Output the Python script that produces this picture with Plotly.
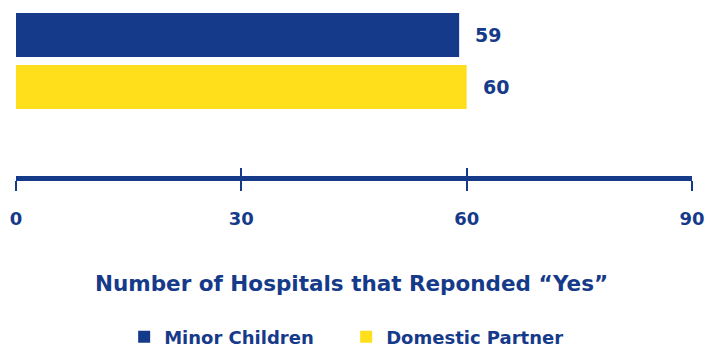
import plotly.graph_objects as go

categories = ["Minor Children", "Domestic Partner"]
values = [59, 60]
colors = ["#163A8A", "#FFDF1B"]
tick_vals = [0, 30, 60, 90]
tick_text = ["0", "30", "60", "90"]
x_title = "Number of Hospitals that Reponded “Yes”"

BLUE = "#163A8A"
FONT = "DejaVu Sans"
W, H = 710, 347


def py(p):
    """pixel row (from top) -> paper fraction (plot area fills the figure height)"""
    return 1 - p / H


fig = go.Figure()
for cat, val, col in zip(categories, values, colors):
    fig.add_trace(go.Bar(
        x=[val], y=[cat], orientation="h", name=f"<b>{cat}</b>",
        marker=dict(color=col, line=dict(width=0)),
        width=0.846, hoverinfo="skip",
    ))
    fig.add_annotation(
        x=val, y=cat, xref="x", yref="y", text=f"<b>{val}</b>",
        showarrow=False, xanchor="left", xshift=14,
        font=dict(family=FONT, size=19, color=BLUE),
    )

fig.add_trace(go.Scatter(x=[0], y=[categories[0]], xaxis="x2", yaxis="y", mode="markers",
                         marker=dict(opacity=0), showlegend=False, hoverinfo="skip"))

pos = py(178)
fig.update_layout(
    width=W, height=H, autosize=False,
    margin=dict(l=16, r=18, t=0, b=0, autoexpand=False),
    paper_bgcolor="white", plot_bgcolor="white",
    barmode="overlay",
    showlegend=True,
    legend=dict(orientation="h", x=0.16, xanchor="left",
                y=py(337), yanchor="middle",
                font=dict(family=FONT, size=18, color=BLUE),
                entrywidth=177, traceorder="normal", bgcolor="rgba(0,0,0,0)"),
    xaxis=dict(range=[0, 90], anchor="free", position=pos, automargin=False,
               showline=True, linecolor=BLUE, linewidth=5,
               ticks="outside", ticklen=10, tickwidth=2, tickcolor=BLUE,
               tickvals=tick_vals, ticktext=[f"<b>{t}</b>" for t in tick_text],
               tickfont=dict(family=FONT, size=18, color=BLUE),
               ticklabelstandoff=12,
               showgrid=False, zeroline=False, fixedrange=True),
    xaxis2=dict(range=[0, 90], overlaying="x", anchor="free", position=pos,
                side="bottom", showline=False, automargin=False,
                ticks="inside", ticklen=10, tickwidth=2, tickcolor=BLUE,
                tickvals=tick_vals, showticklabels=False,
                showgrid=False, zeroline=False, fixedrange=True),
    yaxis=dict(domain=[py(113), py(9)], autorange="reversed", automargin=False,
               showticklabels=False, showgrid=False, zeroline=False,
               showline=False, ticks="", fixedrange=True),
    annotations=list(fig.layout.annotations) + [dict(
        text=f"<b>{x_title}</b>", xref="paper", yref="paper",
        x=0.4963, y=py(283), showarrow=False, xanchor="center", yanchor="middle",
        font=dict(family=FONT, size=21.5, color=BLUE))],
)

fig.write_html("out.html", config={"displayModeBar": False, "responsive": False},
               post_script="document.body.style.margin='0';document.body.style.overflow='hidden';")
